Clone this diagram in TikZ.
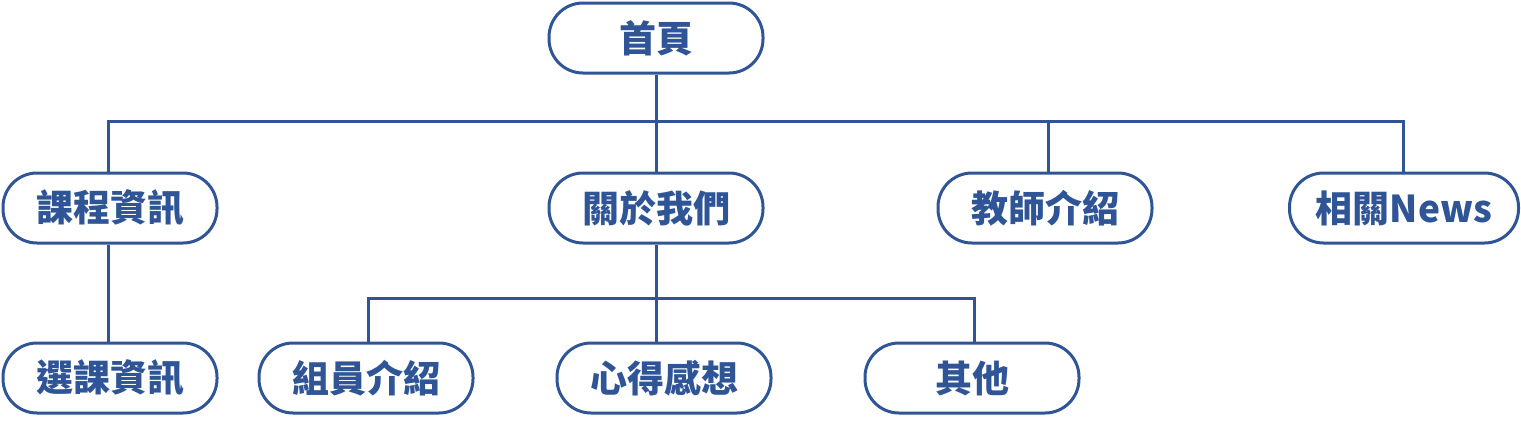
\documentclass[tikz,border=0pt]{standalone}
\usepackage{fontspec}
\setmainfont{Noto Sans CJK TC}
\definecolor{navy}{HTML}{2F5597}
\tikzset{
  box/.style={draw=navy, line width=3pt, rounded corners=34pt, fill=white,
    minimum width=214pt, minimum height=70pt, inner sep=0pt,
    text=navy, font=\fontsize{37}{42}\selectfont\bfseries},
  link/.style={draw=navy, line width=3pt}
}
\begin{document}
\begin{tikzpicture}[x=1pt,y=-1pt]
\useasboundingbox (0,0) rectangle (1521,424);
\node[box] (home) at (656,38) {首頁};
\node[box] (course) at (110,208) {課程資訊};
\node[box] (about) at (656,208) {關於我們};
\node[box] (teacher) at (1045,208) {教師介紹};
\node[box, minimum width=229pt] (news) at (1404,208) {相關News};
\node[box] (select) at (110,378) {選課資訊};
\node[box] (member) at (366,378) {組員介紹};
\node[box] (feel) at (664,378) {心得感想};
\node[box] (other) at (972,378) {其他};
\coordinate (busA) at (0,121);
\coordinate (busB) at (0,298);
% top level
\draw[link] (home.south) -- (about.north);
\draw[link] ([xshift=-2pt]course.north) |- (busA -| home.south);
\draw[link] (busA -| home.south) -| ([xshift=3pt]teacher.north);
\draw[link] (busA -| home.south) -| ([xshift=-1pt]news.north);
% course
\draw[link] ([xshift=-2pt]course.south) -- ([xshift=-2pt]select.north);
% about
\draw[link] (about.south) -- (about.south |- feel.north);
\draw[link] ([xshift=2pt]member.north) |- (busB -| about.south);
\draw[link] (busB -| about.south) -| ([xshift=2pt]other.north);
\end{tikzpicture}
\end{document}
